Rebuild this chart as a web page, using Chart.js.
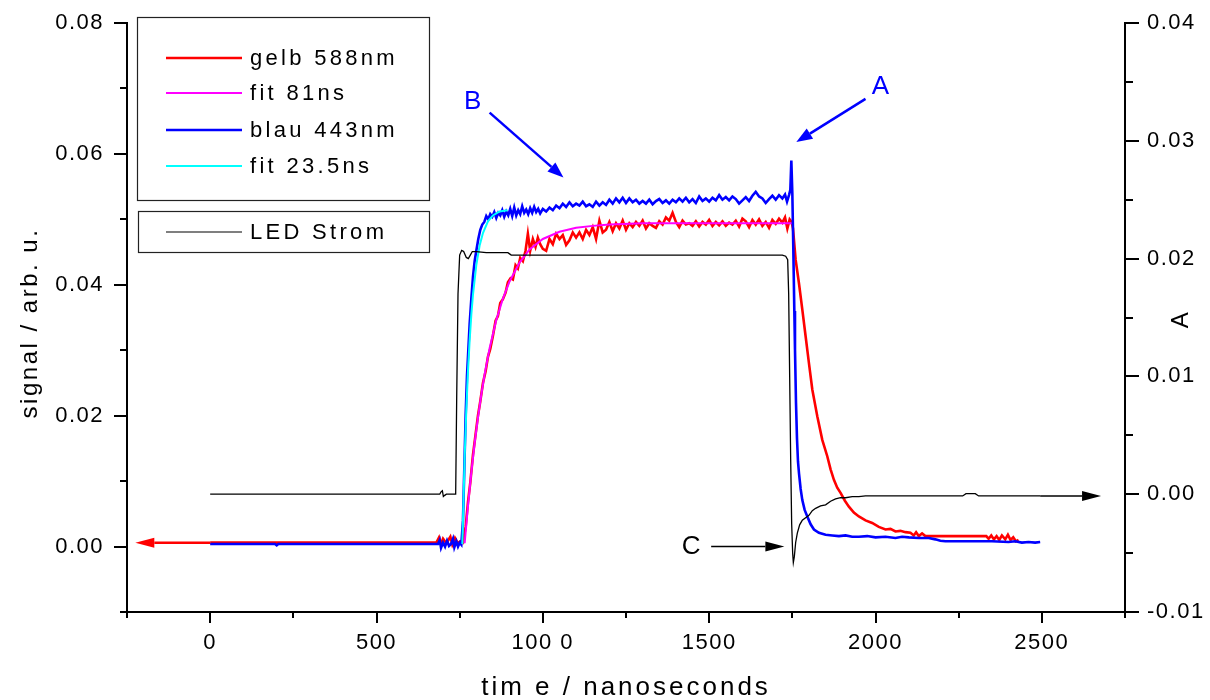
<!DOCTYPE html>
<html>
<head>
<meta charset="utf-8">
<title>LED Signal</title>
<script src="https://cdn.jsdelivr.net/npm/chart.js@4.4.1/dist/chart.umd.min.js"></script>
<style>
  html, body { margin: 0; padding: 0; background: #fff; }
  canvas { display: block; }
</style>
</head>
<body>
<canvas id="chart" width="1210" height="700"></canvas>
<script>
// [time ns, value]
const gelb = [
  [0,0.0006],[100,0.0006],[200,0.0006],[300,0.0006],[400,0.0006],[500,0.0006],[600,0.0006],[680,0.0006],
  [688,0.0014],[694,0.0004],[700,0.0012],[710,0.0005],[722,0.0015],[728,0.0003],[736,0.0013],[745,0.0005],
  [752,0.0008],[760,0.0006],[768,0.0030],[775,0.0068],[782,0.0098],[790,0.0140],[797,0.0168],[805,0.0200],
  [812,0.0222],[820,0.0250],[828,0.0268],[835,0.0290],[842,0.0302],[850,0.0322],[858,0.0345],[865,0.0352],
  [872,0.0372],[880,0.0378],[888,0.0388],[895,0.0404],[903,0.0410],[910,0.0408],[918,0.0430],[925,0.0425],
  [932,0.0441],[940,0.0436],[948,0.0452],[955,0.0478],[962,0.0452],[970,0.0470],[978,0.0458],[985,0.0472],
  [992,0.0462],[1000,0.0455],[1010,0.0452],[1020,0.0470],[1030,0.0462],[1040,0.0478],[1050,0.0470],
  [1060,0.0476],[1070,0.0461],[1080,0.0468],[1090,0.0480],[1100,0.0472],[1110,0.0480],[1120,0.0470],
  [1130,0.0484],[1140,0.0476],[1150,0.0488],[1160,0.0470],[1170,0.0498],[1180,0.0480],[1190,0.0484],
  [1200,0.0496],[1210,0.0482],[1220,0.0494],[1230,0.0486],[1240,0.0498],[1250,0.0484],[1260,0.0494],
  [1270,0.0488],[1280,0.0496],[1290,0.0490],[1300,0.0498],[1310,0.0486],[1320,0.0494],[1330,0.0490],
  [1340,0.0487],[1350,0.0497],[1360,0.0492],[1370,0.0503],[1380,0.0498],[1390,0.0510],[1400,0.0496],
  [1410,0.0488],[1420,0.0498],[1430,0.0492],[1440,0.0494],[1450,0.0490],[1460,0.0497],[1470,0.0489],
  [1480,0.0496],[1490,0.0492],[1500,0.0499],[1510,0.0490],[1520,0.0496],[1530,0.0491],[1540,0.0497],
  [1550,0.0490],[1560,0.0495],[1570,0.0492],[1580,0.0498],[1590,0.0489],[1600,0.0501],[1610,0.0497],
  [1620,0.0488],[1630,0.0499],[1640,0.0492],[1650,0.0500],[1660,0.0490],[1670,0.0496],[1680,0.0487],
  [1690,0.0499],[1700,0.0493],[1710,0.0501],[1720,0.0495],[1728,0.0503],[1735,0.0486],[1742,0.0500],
  [1748,0.0496],[1752,0.0486],[1760,0.0438],[1770,0.0402],[1780,0.0362],[1790,0.0321],[1800,0.0280],
  [1810,0.0240],[1825,0.0199],[1840,0.0163],[1855,0.0138],[1865,0.0118],[1875,0.0102],[1885,0.0090],
  [1895,0.0082],[1908,0.0070],[1920,0.0061],[1935,0.0052],[1950,0.0046],[1970,0.0040],[1990,0.0036],
  [2010,0.0030],[2030,0.0026],[2045,0.0027],[2060,0.0023],[2075,0.0024],[2090,0.0022],[2105,0.0021],
  [2115,0.0017],[2122,0.0022],[2130,0.0016],[2140,0.0020],[2150,0.0016],[2200,0.0016],[2250,0.0016],
  [2300,0.0016],[2333,0.0016],[2340,0.0012],[2348,0.0017],[2356,0.0011],[2364,0.0016],[2372,0.0010],
  [2380,0.0017],[2390,0.0011],[2398,0.0018],[2406,0.0010],[2414,0.0014],[2422,0.0008],[2430,0.0010]
];

const fit81 = [
  [765,0.0005],[775,0.0062],[785,0.0113],[795,0.0158],[805,0.0197],[815,0.0232],[825,0.0263],
  [840,0.0303],[860,0.0346],[880,0.0379],[900,0.0405],[930,0.0434],[960,0.0454],[1000,0.0470],
  [1050,0.0481],[1100,0.0487],[1150,0.0490],[1200,0.0492],[1300,0.0494],[1400,0.0494],[1500,0.0494],
  [1600,0.0494],[1752,0.0494]
];

const blau = [
  [0,0.0004],[100,0.0004],[195,0.0004],[200,0.0002],[205,0.0004],[300,0.0004],[400,0.0004],[500,0.0004],
  [600,0.0004],[685,0.0004],[690,0.0010],[694,-0.0002],[700,0.0006],[706,0.0000],[712,0.0009],[718,0.0001],
  [724,0.0004],[730,0.0012],[734,-0.0001],[740,0.0008],[745,0.0000],[750,0.0006],[755,0.0003],[760,0.0040],
  [764,0.0120],[768,0.0200],[772,0.0260],[776,0.0300],[780,0.0340],[785,0.0378],[790,0.0412],[795,0.0436],
  [800,0.0452],[806,0.0470],[812,0.0484],[818,0.0492],[824,0.0496],[830,0.0505],[836,0.0500],[842,0.0508],
  [848,0.0504],[854,0.0511],[860,0.0502],[866,0.0510],[872,0.0506],[878,0.0514],[884,0.0504],[890,0.0512],
  [896,0.0506],[902,0.0516],[908,0.0505],[914,0.0518],[920,0.0506],[926,0.0514],[932,0.0508],[938,0.0520],
  [944,0.0510],[950,0.0515],[956,0.0508],[962,0.0517],[968,0.0510],[974,0.0519],[980,0.0511],[986,0.0516],
  [992,0.0509],[1000,0.0516],[1010,0.0512],[1020,0.0518],[1030,0.0514],[1040,0.0521],[1050,0.0517],
  [1060,0.0524],[1070,0.0519],[1080,0.0526],[1090,0.0520],[1100,0.0524],[1110,0.0521],[1120,0.0527],
  [1130,0.0520],[1140,0.0523],[1150,0.0519],[1160,0.0527],[1170,0.0521],[1180,0.0526],[1190,0.0522],
  [1200,0.0530],[1210,0.0524],[1220,0.0532],[1230,0.0526],[1240,0.0533],[1250,0.0525],[1260,0.0532],
  [1270,0.0526],[1280,0.0530],[1290,0.0524],[1300,0.0528],[1310,0.0524],[1320,0.0530],[1330,0.0523],
  [1340,0.0528],[1350,0.0531],[1360,0.0525],[1370,0.0529],[1380,0.0524],[1390,0.0530],[1400,0.0526],
  [1410,0.0532],[1420,0.0527],[1430,0.0533],[1440,0.0526],[1450,0.0531],[1460,0.0525],[1470,0.0535],
  [1480,0.0528],[1490,0.0532],[1500,0.0527],[1510,0.0533],[1520,0.0529],[1530,0.0537],[1540,0.0530],
  [1550,0.0534],[1560,0.0529],[1570,0.0535],[1580,0.0531],[1590,0.0524],[1600,0.0529],[1610,0.0534],
  [1620,0.0528],[1630,0.0536],[1640,0.0542],[1650,0.0535],[1660,0.0532],[1670,0.0525],[1680,0.0531],
  [1690,0.0536],[1700,0.0530],[1710,0.0537],[1720,0.0532],[1728,0.0538],[1734,0.0527],[1740,0.0537],
  [1744,0.0545],[1747,0.0590],[1750,0.0540],[1753,0.0453],[1756,0.0360],[1758,0.0301],[1761,0.0220],
  [1764,0.0165],[1767,0.0130],[1770,0.0112],[1775,0.0088],[1780,0.0071],[1787,0.0056],[1795,0.0046],
  [1805,0.0034],[1815,0.0026],[1830,0.0021],[1850,0.0018],[1870,0.0017],[1890,0.0016],[1910,0.0017],
  [1930,0.0015],[1950,0.0015],[1975,0.0016],[2000,0.0014],[2030,0.0015],[2060,0.0013],[2080,0.0015],
  [2100,0.0014],[2130,0.0013],[2160,0.0013],[2180,0.0011],[2195,0.0009],[2210,0.0008],[2250,0.0008],
  [2300,0.0008],[2350,0.0008],[2400,0.0007],[2420,0.0008],[2440,0.0006],[2460,0.0007],[2480,0.0006],
  [2495,0.0007]
];

const fit235 = [
  [758,0.0004],[765,0.0136],[770,0.0209],[775,0.0268],[780,0.0315],[785,0.0354],[790,0.0385],
  [800,0.0430],[810,0.0460],[820,0.0479],[835,0.0497],[850,0.0506],[870,0.0512],[894,0.0514]
];

// LED current, right axis
const ledStrom = [
  [0,0],[100,0],[200,0],[300,0],[400,0],[500,0],[600,0],[690,0],[694,0.0002],[698,0.0003],[701,-0.0002],
  [705,-0.0001],[710,0],[738,0],[741,0.0080],[745,0.0170],[750,0.0203],[756,0.0207],[762,0.0206],
  [770,0.0201],[776,0.0200],[782,0.0203],[788,0.0206],[800,0.0206],[830,0.0205],[860,0.0205],[895,0.0205],
  [900,0.0204],[905,0.0203],[1000,0.0203],[1200,0.0203],[1400,0.0203],[1600,0.0203],[1720,0.0203],
  [1730,0.0202],[1736,0.0199],[1739,0.0170],[1742,0.0100],[1745,0.0030],[1748,-0.0025],[1751,-0.0050],
  [1753,-0.0058],[1756,-0.0053],[1760,-0.0041],[1765,-0.0033],[1772,-0.0026],[1780,-0.0022],
  [1790,-0.0020],[1800,-0.0018],[1810,-0.0014],[1820,-0.0012],[1835,-0.0010],[1850,-0.0009],
  [1865,-0.0006],[1880,-0.0004],[1895,-0.0003],[1910,-0.0003],[1930,-0.0002],[1950,-0.0002],
  [1970,-0.00015],[2000,-0.00015],[2100,-0.00015],[2200,-0.00015],[2262,-0.00015],[2272,0.00005],
  [2300,0.00005],[2310,-0.00015],[2400,-0.00015],[2495,-0.00015]
];

const seriesNames = ['gelb 588nm', 'fit 81ns', 'blau 443nm', 'fit 23.5ns', 'LED Strom'];

const xTicks = [0, 500, 1000, 1500, 2000, 2500];
const xTickLabels = ['0', '500', '100 0', '1500', '2000', '2500'];
const xMinorTicks = [-250, 250, 750, 1250, 1750, 2250, 2750];
const leftTicks = [0, 0.02, 0.04, 0.06, 0.08];
const leftTickLabels = ['0.00', '0.02', '0.04', '0.06', '0.08'];
const leftMinorTicks = [-0.01, 0.01, 0.03, 0.05, 0.07];
const rightTicks = [-0.01, 0, 0.01, 0.02, 0.03, 0.04];
const rightTickLabels = ['-0.01', '0.00', '0.01', '0.02', '0.03', '0.04'];
const rightMinorTicks = [-0.005, 0.005, 0.015, 0.025, 0.035];

// annotations in data units
const labels = [
  { text: 'B', x: 789, y: 0.0679, axis: 'y', color: '#0000ff' },
  { text: 'A', x: 2015, y: 0.0702, axis: 'y', color: '#0000ff' },
  { text: 'C', x: 1446, y: 0.0000, axis: 'y', color: '#000000' }
];
const arrows = [
  { from: [840, 0.0663], to: [1062, 0.0564], axis: 'y', color: '#0000ff', width: 2.5, head: 16, half: 6 },
  { from: [1970, 0.0684], to: [1762, 0.0618], axis: 'y', color: '#0000ff', width: 2.5, head: 16, half: 6 },
  { from: [1506, 0.0000], to: [1726, 0.0000], axis: 'y', color: '#000000', width: 1.5, head: 19, half: 5 },
  { from: [0, 0.0006], to: [-225, 0.0006], axis: 'y', color: '#ff0000', width: 2.5, head: 19, half: 5 },
  { from: [2495, -0.00015], to: [2678, -0.00015], axis: 'y1', color: '#000000', width: 1.5, head: 19, half: 5 }
];

const FONT = '"Liberation Sans", Arial, sans-serif';
const toXY = arr => arr.map(p => ({ x: p[0], y: p[1] }));

function drawArrow(ctx, x1, y1, x2, y2, a) {
  const ang = Math.atan2(y2 - y1, x2 - x1);
  const bx = x2 - a.head * Math.cos(ang), by = y2 - a.head * Math.sin(ang);
  ctx.strokeStyle = a.color;
  ctx.fillStyle = a.color;
  ctx.lineWidth = a.width;
  ctx.beginPath();
  ctx.moveTo(x1, y1);
  ctx.lineTo(bx, by);
  ctx.stroke();
  ctx.beginPath();
  ctx.moveTo(x2, y2);
  ctx.lineTo(bx + a.half * Math.sin(ang), by - a.half * Math.cos(ang));
  ctx.lineTo(bx - a.half * Math.sin(ang), by + a.half * Math.cos(ang));
  ctx.closePath();
  ctx.fill();
}

function tickMarks(ctx, scale, values, len, side) {
  ctx.beginPath();
  values.forEach(v => {
    const p = Math.round(scale.getPixelForValue(v));
    if (side === 'bottom') { ctx.moveTo(p, scale.top); ctx.lineTo(p, scale.top + len); }
    else if (side === 'left') { ctx.moveTo(scale.right, p); ctx.lineTo(scale.right - len, p); }
    else { ctx.moveTo(scale.left, p); ctx.lineTo(scale.left + len, p); }
  });
  ctx.stroke();
}

const extras = {
  id: 'extras',
  beforeDraw(chart) {
    chart.ctx.letterSpacing = '1.5px';
  },
  afterDraw(chart) {
    const ctx = chart.ctx;
    const sx = chart.scales.x, sy = chart.scales.y, sy1 = chart.scales.y1;
    ctx.save();

    // tick marks, long and short
    ctx.strokeStyle = '#000';
    ctx.lineWidth = 2;
    tickMarks(ctx, sx, xTicks, 11, 'bottom');
    tickMarks(ctx, sx, xMinorTicks, 6, 'bottom');
    tickMarks(ctx, sy, leftTicks, 13, 'left');
    tickMarks(ctx, sy, leftMinorTicks, 7, 'left');
    tickMarks(ctx, sy1, rightTicks, 14, 'right');
    tickMarks(ctx, sy1, rightMinorTicks, 8, 'right');

    // axis titles
    ctx.fillStyle = '#000';
    ctx.textBaseline = 'middle';
    ctx.textAlign = 'center';
    ctx.letterSpacing = '3px';
    ctx.font = '26px ' + FONT;
    ctx.fillText('tim e / nanoseconds', (sx.left + sx.right) / 2, 688);
    ctx.letterSpacing = '2.5px';
    ctx.font = '24px ' + FONT;
    ctx.save();
    ctx.translate(30, 323);
    ctx.rotate(-Math.PI / 2);
    ctx.fillText('signal / arb. u.', 0, 0);
    ctx.restore();
    ctx.save();
    ctx.translate(1181, 319);
    ctx.rotate(-Math.PI / 2);
    ctx.fillText('A', 0, 0);
    ctx.restore();

    // arrows and letters
    arrows.forEach(a => {
      const ys = chart.scales[a.axis];
      drawArrow(ctx, sx.getPixelForValue(a.from[0]), ys.getPixelForValue(a.from[1]),
        sx.getPixelForValue(a.to[0]), ys.getPixelForValue(a.to[1]), a);
    });
    ctx.font = '26px ' + FONT;
    ctx.letterSpacing = '0px';
    labels.forEach(l => {
      ctx.fillStyle = l.color;
      ctx.fillText(l.text, sx.getPixelForValue(l.x), chart.scales[l.axis].getPixelForValue(l.y));
    });

    // legend boxes
    ctx.strokeStyle = '#222';
    ctx.lineWidth = 1.2;
    ctx.strokeRect(137.5, 17.5, 292, 183);
    ctx.strokeRect(138.5, 211.5, 291, 41);
    const rowsY = [58, 93, 130, 166, 232];
    ctx.font = '22px ' + FONT;
    ctx.letterSpacing = '3.3px';
    ctx.textAlign = 'left';
    chart.data.datasets.forEach((ds, i) => {
      ctx.strokeStyle = ds.borderColor;
      ctx.lineWidth = i === 4 ? 1.2 : ds.borderWidth;
      ctx.beginPath();
      ctx.moveTo(166, rowsY[i]);
      ctx.lineTo(242, rowsY[i]);
      ctx.stroke();
      ctx.fillStyle = '#000';
      ctx.fillText(ds.label, 250, rowsY[i] + 1);
    });
    ctx.restore();
  }
};

const lineStyle = (label, data, color, width, axis, order) => ({
  label: label, data: toXY(data), yAxisID: axis, order: order,
  borderColor: color, borderWidth: width, pointRadius: 0, tension: 0, fill: false
});

const tickFont = { family: FONT, size: 22 };

// fixed box sizes so the plot area sits where the original does
function fixVertical(width) {
  return s => { s.width = width; s.paddingTop = 0; s.paddingBottom = 0; };
}

new Chart(document.getElementById('chart').getContext('2d'), {
  type: 'line',
  data: {
    datasets: [
      lineStyle(seriesNames[0], gelb, '#ff0000', 2.6, 'y', 5),
      lineStyle(seriesNames[1], fit81, '#ff00ff', 2, 'y', 4),
      lineStyle(seriesNames[2], blau, '#0000ff', 2.6, 'y', 3),
      lineStyle(seriesNames[3], fit235, '#00ffff', 2, 'y', 2),
      lineStyle(seriesNames[4], ledStrom, '#000000', 1.3, 'y1', 1)
    ]
  },
  options: {
    responsive: false,
    animation: false,
    layout: { padding: { top: 23, left: 0, right: 0, bottom: 0 } },
    plugins: { legend: { display: false }, tooltip: { enabled: false } },
    scales: {
      x: {
        type: 'linear', min: -250, max: 2750,
        afterBuildTicks: s => { s.ticks = xTicks.map(v => ({ value: v })); },
        afterFit: s => { s.height = 88; s.paddingLeft = 0; s.paddingRight = 0; },
        ticks: { callback: (v, i) => xTickLabels[i], font: tickFont, color: '#000', padding: 18, maxRotation: 0, autoSkip: false },
        grid: { drawOnChartArea: false, drawTicks: false },
        border: { display: true, color: '#000', width: 2 }
      },
      y: {
        position: 'left', min: -0.01, max: 0.08,
        afterBuildTicks: s => { s.ticks = leftTicks.map(v => ({ value: v })); },
        afterFit: fixVertical(127),
        ticks: { callback: (v, i) => leftTickLabels[i], font: tickFont, color: '#000', padding: 23, autoSkip: false },
        grid: { drawOnChartArea: false, drawTicks: false },
        border: { display: true, color: '#000', width: 2 }
      },
      y1: {
        position: 'right', min: -0.01, max: 0.04,
        afterBuildTicks: s => { s.ticks = rightTicks.map(v => ({ value: v })); },
        afterFit: fixVertical(85),
        ticks: { callback: (v, i) => rightTickLabels[i], font: tickFont, color: '#000', padding: 22, autoSkip: false },
        grid: { drawOnChartArea: false, drawTicks: false },
        border: { display: true, color: '#000', width: 2 }
      }
    }
  },
  plugins: [extras]
});
</script>
</body>
</html>
